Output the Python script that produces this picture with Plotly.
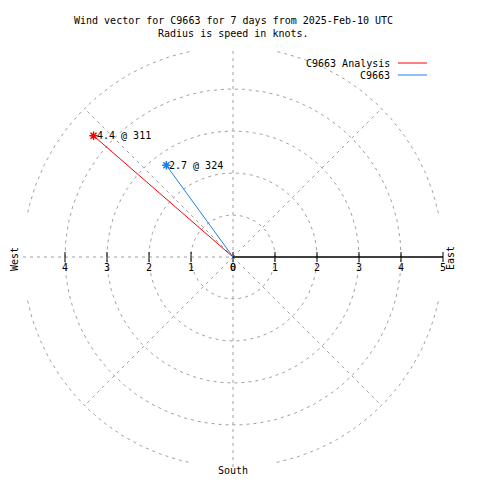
import numpy as np
import plotly.graph_objects as go

# ---- data ----
series_names = ["C9663 Analysis", "C9663"]
speeds = [4.4, 2.7]          # knots
directions = [311, 324]      # degrees, clockwise from north
series_colors = ["#ff0000", "#1e7fe8"]
tick_values = [0, 1, 2, 3, 4, 5]
west_tick_values = [0, 1, 2, 3, 4]
title_lines = ["Wind vector for C9663 for 7 days from 2025-Feb-10 UTC",
               "Radius is speed in knots."]
rmax = 5

FONT = "DejaVu Sans Mono"
GRID = "#a0a0a0"
PX = 42.0  # pixels per knot
OFF = 8    # page body margin compensation
cx, cy = 233 - OFF, 257 - OFF

def px_x(p):
    return (p - OFF - cx) / PX

def px_y(p):
    return (cy - (p - OFF)) / PX

fig = go.Figure()

def gline(x, y, color=GRID, width=1, dash="3px,4px"):
    fig.add_trace(go.Scatter(x=x, y=y, mode="lines", hoverinfo="skip", showlegend=False,
                             line=dict(color=color, width=width, dash=dash)))

# grid circles
for r in tick_values[1:-1]:
    t = np.linspace(0, 2 * np.pi, 361)
    gline(r * np.cos(t), r * np.sin(t))
# outer circle (drawn in arcs)
for q in range(4):
    t = np.radians(np.linspace(q * 90 + 12, q * 90 + 78, 80))
    gline(rmax * np.cos(t), rmax * np.sin(t))
# radial grid lines
for a in [45, 135, 225, 315]:
    gline([0, rmax * np.cos(np.radians(a))], [0, rmax * np.sin(np.radians(a))])
# axes grid lines
gline([0, 0], [-rmax, rmax])
gline([-rmax, 0], [0, 0])
gline([0, rmax], [0, 0], color="black", width=1.5, dash="solid")

# tick marks
tx, ty = [], []
for v in tick_values:
    tx += [v, v, None]; ty += [-0.12, 0.12, None]
for v in west_tick_values[1:]:
    tx += [-v, -v, None]; ty += [-0.12, 0.12, None]
fig.add_trace(go.Scatter(x=tx, y=ty, mode="lines", hoverinfo="skip", showlegend=False,
                         line=dict(color="black", width=1)))

# tick labels
fig.add_trace(go.Scatter(x=tick_values + [-v for v in west_tick_values],
                         y=[-0.27] * (len(tick_values) + len(west_tick_values)),
                         mode="text",
                         text=[str(v) for v in tick_values] + [str(v) for v in west_tick_values],
                         textfont=dict(family=FONT, size=10, color="black"),
                         hoverinfo="skip", showlegend=False))

# wind vectors
for name, s, d, c in zip(series_names, speeds, directions, series_colors):
    x = s * np.sin(np.radians(d))
    y = s * np.cos(np.radians(d))
    fig.add_trace(go.Scatter(x=[0, x], y=[0, y], mode="lines", showlegend=False,
                             line=dict(color=c, width=1), name=name))
    fig.add_trace(go.Scatter(x=[x], y=[y], mode="markers", showlegend=False,
                             marker=dict(symbol="asterisk-open", size=7, color=c,
                                         line=dict(color=c, width=1.5))))
    fig.add_annotation(x=x, y=y, text=f"{s} @ {d}", showarrow=False,
                       xanchor="left", yanchor="middle", xshift=1,
                       font=dict(family=FONT, size=10, color="black"))

# legend
for i, (name, c) in enumerate(zip(series_names, series_colors)):
    ly = px_y(63 + 12 * i)
    fig.add_annotation(x=px_x(392), y=ly, text=name, showarrow=False,
                       xanchor="right", yanchor="middle",
                       font=dict(family=FONT, size=10, color="black"))
    fig.add_trace(go.Scatter(x=[px_x(398), px_x(427)], y=[ly, ly], mode="lines",
                             showlegend=False, hoverinfo="skip", line=dict(color=c, width=1)))

# compass labels
fig.add_annotation(x=px_x(14), y=px_y(259), text="West", textangle=-90,
                   showarrow=False, font=dict(family=FONT, size=10, color="black"))
fig.add_annotation(x=px_x(450), y=px_y(258), text="East", textangle=-90,
                   showarrow=False, font=dict(family=FONT, size=10, color="black"))
fig.add_annotation(x=0, y=px_y(470), text="South",
                   showarrow=False, font=dict(family=FONT, size=10, color="black"))

# title
for i, line in enumerate(title_lines):
    fig.add_annotation(x=0, y=px_y(20 + 13 * i), text=line, showarrow=False,
                       font=dict(family=FONT, size=10, color="black"))

fig.update_layout(
    width=480, height=480,
    margin=dict(l=0, r=0, t=0, b=0, pad=0),
    paper_bgcolor="white", plot_bgcolor="white",
    xaxis=dict(range=[-cx / PX, (480 - cx) / PX], visible=False, fixedrange=True),
    yaxis=dict(range=[-(480 - cy) / PX, cy / PX], visible=False, fixedrange=True),
    showlegend=False,
)

fig.write_html("out.html", config={"displayModeBar": False})
